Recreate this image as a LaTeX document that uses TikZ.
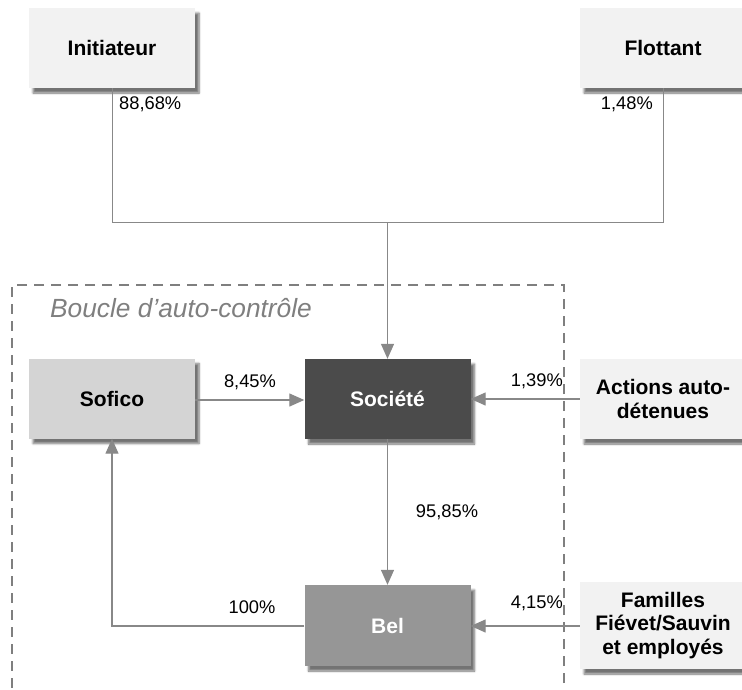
\documentclass[tikz,border=0pt]{standalone}
\usepackage{fontspec}
\setmainfont{Liberation Sans}
\usetikzlibrary{arrows.meta,shadows.blur}
\definecolor{boxlight}{HTML}{F2F2F2}
\definecolor{boxmid}{HTML}{D4D4D4}
\definecolor{boxdark}{HTML}{4B4B4B}
\definecolor{boxbel}{HTML}{969696}
\definecolor{linegray}{HTML}{888888}
\definecolor{dashgray}{HTML}{7F7F7F}
\tikzset{
  entity/.style={minimum width=166pt, minimum height=80pt, inner sep=2pt, align=center,
    font=\fontsize{21}{23.5}\selectfont\bfseries,
    blur shadow={shadow xshift=4pt, shadow yshift=-5pt, shadow blur steps=6, shadow opacity=55}},
  conn/.style={draw=linegray, line width=1.3pt},
  arr/.style={conn, -{Triangle[length=15pt,width=13pt]}},
  pct/.style={font=\fontsize{18.3}{21}\selectfont, inner sep=0pt}
}
\begin{document}
\begin{tikzpicture}[x=1pt,y=-1pt]
\useasboundingbox (0,0) rectangle (742,689);
% dashed loop frame
\draw[dashgray, line width=2pt, dash pattern=on 10pt off 7pt] (564,700) -- (564,285) -- (12,285) -- (12,700);
\node[anchor=base west, font=\fontsize{26.3}{29}\selectfont\itshape, text=dashgray, inner sep=0pt] (loop) at (50,317) {Boucle d’auto-contrôle};
% boxes
\node[entity, fill=boxlight] (ini) at (112,48) {Initiateur};
\node[entity, fill=boxlight] (flo) at (663,48) {Flottant};
\node[entity, fill=boxmid] (sof) at (112,398.5) {Sofico};
\node[entity, fill=boxdark, text=white] (soc) at (387.5,399) {Société};
\node[entity, fill=boxlight] (act) at (663,399) {Actions auto-\\détenues};
\node[entity, fill=boxbel, text=white, minimum height=81pt] (bel) at (387.5,625.5) {Bel};
\node[entity, fill=boxlight, minimum height=87pt] (fam) at (663,625.5) {Familles\\Fiévet/Sauvin\\et employés};
% connectors
\coordinate (jn) at (387.5,222);
\draw[conn, line width=1pt] (ini.south) -- (ini.south |- jn) -- (flo.south |- jn) -- (flo.south);
\draw[arr] (jn) -- (soc.north);
\draw[arr] (sof.east |- 0,400) -- (soc.west |- 0,400);
\draw[arr] (act.west) -- (soc.east);
\draw[arr] (soc.south) -- (bel.north);
\coordinate (lb) at (112,626);
\draw[arr] (bel.west |- lb) -- (lb) -- (sof.south);
\draw[arr] (fam.west |- 0,626) -- (bel.east |- 0,626);
% labels
\node[pct, anchor=west] (l1) at (119,104) {88,68\%};
\node[pct, anchor=east] (l2) at (653,104) {1,48\%};
\node[pct] (l3) at (250,382) {8,45\%};
\node[pct, anchor=east] (l4) at (563,381) {1,39\%};
\node[pct] (l5) at (447,512) {95,85\%};
\node[pct] (l6) at (252,607) {100\%};
\node[pct, anchor=east] (l7) at (563,603) {4,15\%};
\end{tikzpicture}
\end{document}
